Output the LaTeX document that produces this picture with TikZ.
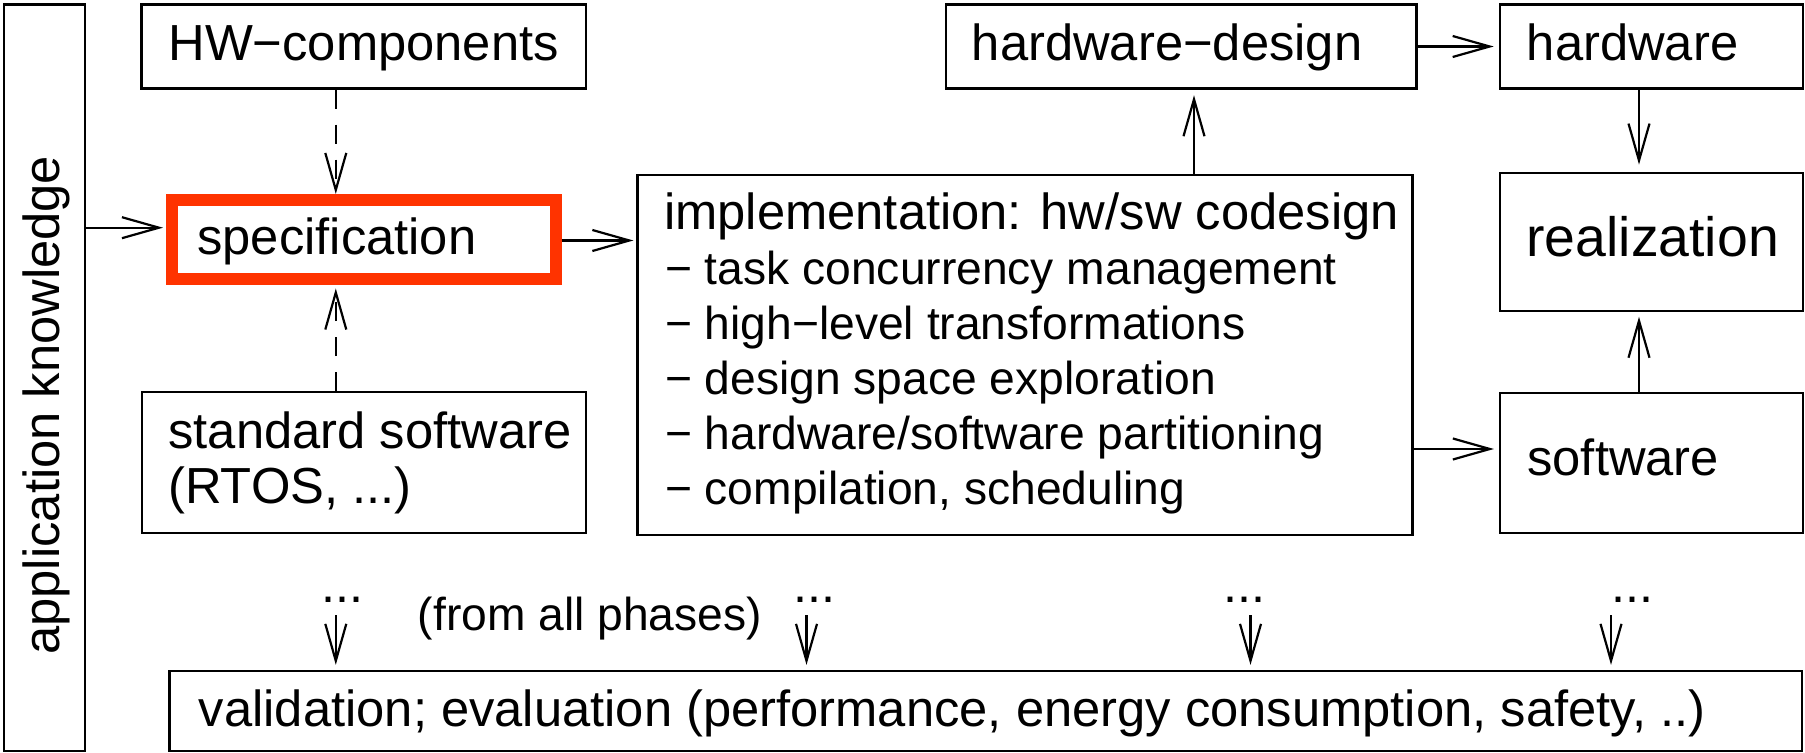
\documentclass[tikz,border=0pt]{standalone}
\usepackage{fontspec}
\setmainfont{Liberation Sans}
\usetikzlibrary{arrows.meta,fit}
\definecolor{specred}{RGB}{255,51,0}
\begin{document}
\begin{tikzpicture}[x=0.5pt,y=-0.5pt,
  box/.style={draw, line width=1.1pt, inner sep=0pt},
  lbl/.style={anchor=base west, inner sep=0pt, font=\fontsize{25.35}{30}\selectfont},
  sml/.style={anchor=base west, inner sep=0pt, font=\fontsize{23.1}{28}\selectfont},
  dotl/.style={anchor=base, inner sep=0pt, font=\fontsize{25.2}{30}\selectfont},
  arr/.style={line width=1.1pt, -{Straight Barb[length=18.5pt,width=10.5pt]}},
  dsh/.style={dash pattern=on 9.5pt off 8pt}]
\fill[white] (0,0) rectangle (1805,753);
\useasboundingbox (0,0) rectangle (1805,753);

% boxes
\node[box, fit={(4,4.5) (85,751)}] (appk) {};
\node[box, fit={(141.5,4.5) (586,88.5)}] (hwc) {};
\node[draw=specred, line width=6pt, inner sep=0pt, fit={(172,200) (556,279.5)}] (spec) {};
\node[box, fit={(637.5,174.7) (1412.5,535)}] (impl) {};
\node[box, fit={(946,4.5) (1416.5,88.5)}] (hwd) {};
\node[box, fit={(1500,4.5) (1803,88.5)}] (hw) {};
\node[box, fit={(1500,172.7) (1803,311)}] (real) {};
\node[box, fit={(1500,392.7) (1803,533.3)}] (sw) {};
\node[box, fit={(141.8,392.3) (586,533.3)}] (std) {};
\node[box, fit={(169.5,671) (1802,751)}] (val) {};

% texts
\node[lbl, rotate=90] (appkt) at (59,655) {application knowledge};
\node[lbl] (hwct) at (168,61) {HW−components};
\node[lbl] (spect) at (197,255) {specification};
\node[lbl] (impl1) at (663.8,229.5) {implementation: hw/sw codesign};
\node[sml] (impl2) at (664.7,284.5) {− task concurrency management};
\node[sml] (impl3) at (664.7,339.5) {− high−level transformations};
\node[sml] (impl4) at (664.7,394.5) {− design space exploration};
\node[sml] (impl5) at (664.7,449.5) {− hardware/software partitioning};
\node[sml] (impl6) at (664.7,504.5) {− compilation, scheduling};
\node[lbl] (hwdt) at (971.5,61) {hardware−design};
\node[lbl] (hwt) at (1526.5,61) {hardware};
\node[lbl, font=\fontsize{27.7}{30}\selectfont] (realt) at (1526,256.7) {realization};
\node[lbl] (swt) at (1527,475.7) {software};
\node[lbl] (stdt1) at (168,449) {standard software};
\node[lbl] (stdt2) at (168,503.3) {(RTOS, ...)};
\node[sml] (fromt) at (417.5,630.7) {(from all phases)};
\node[lbl] (valt) at (198.5,726) {validation; evaluation (performance, energy consumption, safety, ..)};
\node[dotl] (d1) at (342.7,603) {...};
\node[dotl] (d2) at (814,603) {...};
\node[dotl] (d3) at (1244,603) {...};
\node[dotl] (d4) at (1632,603) {...};

% helper coordinates
\coordinate (ya) at (0,227.7);
\coordinate (yb) at (0,240.5);
\coordinate (yc) at (0,449);
\coordinate (xs) at (335.8,0);
\coordinate (xh) at (1194,0);
\coordinate (xr) at (1639,0);
\coordinate (a1) at (335.8,615);
\coordinate (a2) at (806.5,615);
\coordinate (a3) at (1250.5,615);
\coordinate (a4) at (1611,615);

% connectors
\draw[arr, shorten >=1.5pt] (appk.east |- ya) -- (spec.west |- ya);
\draw[arr, dsh] (hwc.south -| xs) -- (spec.north -| xs);
\draw[arr, dsh, shorten >=1.5pt] (std.north -| xs) -- (spec.south -| xs);
\draw[arr, shorten >=1.5pt] (spec.east |- yb) -- (impl.west |- yb);
\draw[arr, shorten >=2.8pt] (impl.north -| xh) -- (hwd.south -| xh);
\draw[arr, shorten >=2.6pt] (hwd.east) -- (hw.west);
\draw[arr, shorten >=3.5pt] (hw.south -| xr) -- (real.north -| xr);
\draw[arr, shorten >=2.5pt] (impl.east |- yc) -- (sw.west |- yc);
\draw[arr, shorten >=2.3pt] (sw.north -| xr) -- (real.south -| xr);
\draw[arr, shorten >=2.5pt] (a1) -- (a1 |- val.north);
\draw[arr, shorten >=2.5pt] (a2) -- (a2 |- val.north);
\draw[arr, shorten >=2.5pt] (a3) -- (a3 |- val.north);
\draw[arr, shorten >=2.5pt] (a4) -- (a4 |- val.north);
\end{tikzpicture}
\end{document}
